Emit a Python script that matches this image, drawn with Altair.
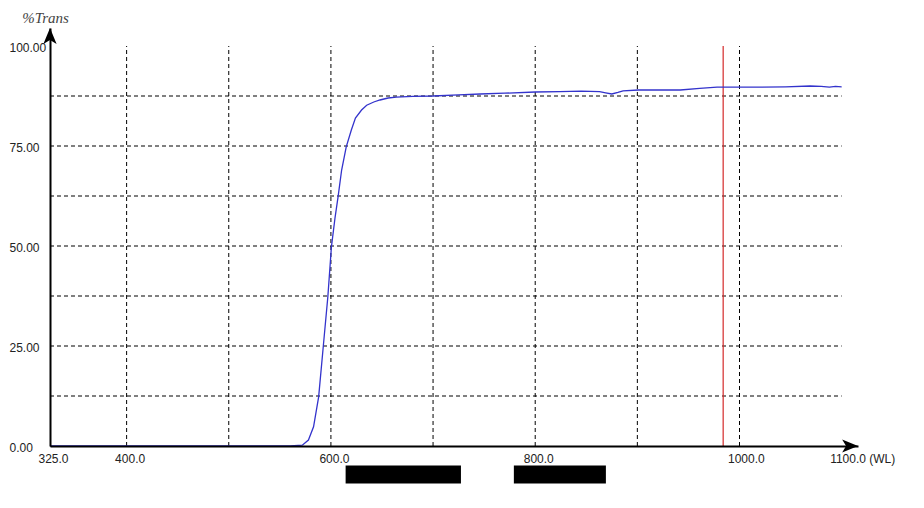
import altair as alt
import pandas as pd

# ---- data ----
wl = [325, 400, 500, 560, 572, 578, 583, 588, 592.5, 597, 600.5, 604, 607, 610.5, 615,
      620, 624, 630, 635, 642, 648, 656, 664, 680, 700, 725, 746, 770, 800, 824, 845,
      863, 869, 875, 881, 886, 901, 920, 942, 961, 978, 1000, 1020, 1045, 1069, 1080,
      1088, 1094, 1100]
trans = [0, 0, 0, 0, 0.2, 1.5, 4.8, 12.3, 24.8, 37.3, 49.8, 57, 62.3, 69, 74.8,
         79, 82, 84, 85.2, 86, 86.5, 87, 87.2, 87.4, 87.5, 87.8, 88, 88.2, 88.5, 88.6, 88.7,
         88.6, 88.3, 88.0, 88.4, 88.8, 89, 89, 89.0, 89.4, 89.7, 89.7, 89.7, 89.8, 90, 89.9,
         89.7, 89.9, 89.8]

x_grid = [400, 500, 600, 700, 800, 900, 1000]
y_grid = [12.5, 25, 37.5, 50, 62.5, 75, 87.5]
x_labels = [325, 400, 600, 800, 1000, 1100]
y_labels = [0, 25, 50, 75, 100]
marker_wl = [984]

# redaction boxes below the axis (wavelength / %T units)
box_x1 = [614.4, 779.1]
box_x2 = [727.3, 869.2]
box_y1 = [-4.9, -4.9]
box_y2 = [-9.4, -9.4]

X_MIN, X_MAX = 325, 1116
Y_MIN, Y_MAX = 0, 104.5
X_END, Y_TOP = 1100, 100

xs = alt.Scale(domain=[X_MIN, X_MAX], nice=False, zero=False)
ys = alt.Scale(domain=[Y_MIN, Y_MAX], nice=False, zero=False)

curve_df = pd.DataFrame({"wl": wl, "T": trans})
vgrid_df = pd.DataFrame({"x": x_grid, "y": [0] * len(x_grid), "y2": [Y_TOP] * len(x_grid)})
hgrid_df = pd.DataFrame({"y": y_grid, "x": [X_MIN] * len(y_grid), "x2": [X_END] * len(y_grid)})
marker_df = pd.DataFrame({"x": marker_wl, "y": [0], "y2": [Y_TOP]})
box_df = pd.DataFrame({"x1": box_x1, "x2": box_x2, "y1": box_y1, "y2": box_y2})
xarrow_df = pd.DataFrame({"x": [X_MAX], "y": [0]})
yarrow_df = pd.DataFrame({"x": [X_MIN], "y": [Y_MAX]})

dash = [4, 3]

x_axis = alt.Axis(
    values=x_labels,
    labelExpr="datum.value == 1100 ? '1100.0 (WL)' : format(datum.value, '.1f')",
    labelAlign="left", labelOffset=-12, labelBaseline="top", labelPadding=7,
    labelFlush=False, labelOverlap=False,
    ticks=False, tickSize=0, grid=False,
    domainColor="black", domainWidth=2,
    labelFont="Liberation Sans", labelFontSize=12, labelColor="#222",
    title="", zindex=1,
)
y_axis = alt.Axis(
    values=y_labels, format=".2f",
    labelAlign="left", labelBaseline="middle", labelPadding=41, labelOffset=1,
    labelFlush=False, labelOverlap=False,
    ticks=False, tickSize=0, grid=False,
    domainColor="black", domainWidth=2,
    labelFont="Liberation Sans", labelFontSize=12, labelColor="#222",
    title="%Trans", titleAngle=0, titleX=-5, titleY=-11,
    titleAlign="center", titleBaseline="middle",
    titleFont="Liberation Serif", titleFontStyle="italic", titleFontWeight="normal",
    titleFontSize=15, titleColor="#444", zindex=1,
)


def X(field):
    return alt.X(field, scale=xs, axis=x_axis)


def Y(field):
    return alt.Y(field, scale=ys, axis=y_axis)


vgrid = alt.Chart(vgrid_df).mark_rule(color="black", strokeWidth=1, strokeDash=dash).encode(
    x=X("x:Q"), y=Y("y:Q"), y2="y2:Q",
)
hgrid = alt.Chart(hgrid_df).mark_rule(color="black", strokeWidth=1, strokeDash=dash).encode(
    y=Y("y:Q"), x=X("x:Q"), x2="x2:Q",
)
marker = alt.Chart(marker_df).mark_rule(color="#d42a2a", strokeWidth=1.2).encode(
    x=X("x:Q"), y=Y("y:Q"), y2="y2:Q",
)
curve = alt.Chart(curve_df).mark_line(color="#3333cc", strokeWidth=1.3).encode(
    x=X("wl:Q"), y=Y("T:Q"),
)
boxes = alt.Chart(box_df).mark_rect(color="black").encode(
    x=X("x1:Q"), x2="x2:Q", y=Y("y1:Q"), y2="y2:Q",
)
xarrow = alt.Chart(xarrow_df).mark_point(
    shape="M 0 0 L -1.2 -0.5 L -0.9 0 L -1.2 0.5 Z",
    filled=True, size=700, color="black", opacity=1,
).encode(x=X("x:Q"), y=Y("y:Q"))
yarrow = alt.Chart(yarrow_df).mark_point(
    shape="M 0 0 L 0.5 1.2 L 0 0.9 L -0.5 1.2 Z",
    filled=True, size=700, color="black", opacity=1,
).encode(x=X("x:Q"), y=Y("y:Q"))

chart = alt.layer(vgrid, hgrid, marker, curve, boxes, xarrow, yarrow).properties(
    width=808, height=418,
    autosize="none",
    padding={"left": 42, "top": 20, "right": 58, "bottom": 54},
    background="white",
).configure_view(strokeWidth=0)

chart.save("out.html", embed_options={"renderer": "svg", "actions": False})
